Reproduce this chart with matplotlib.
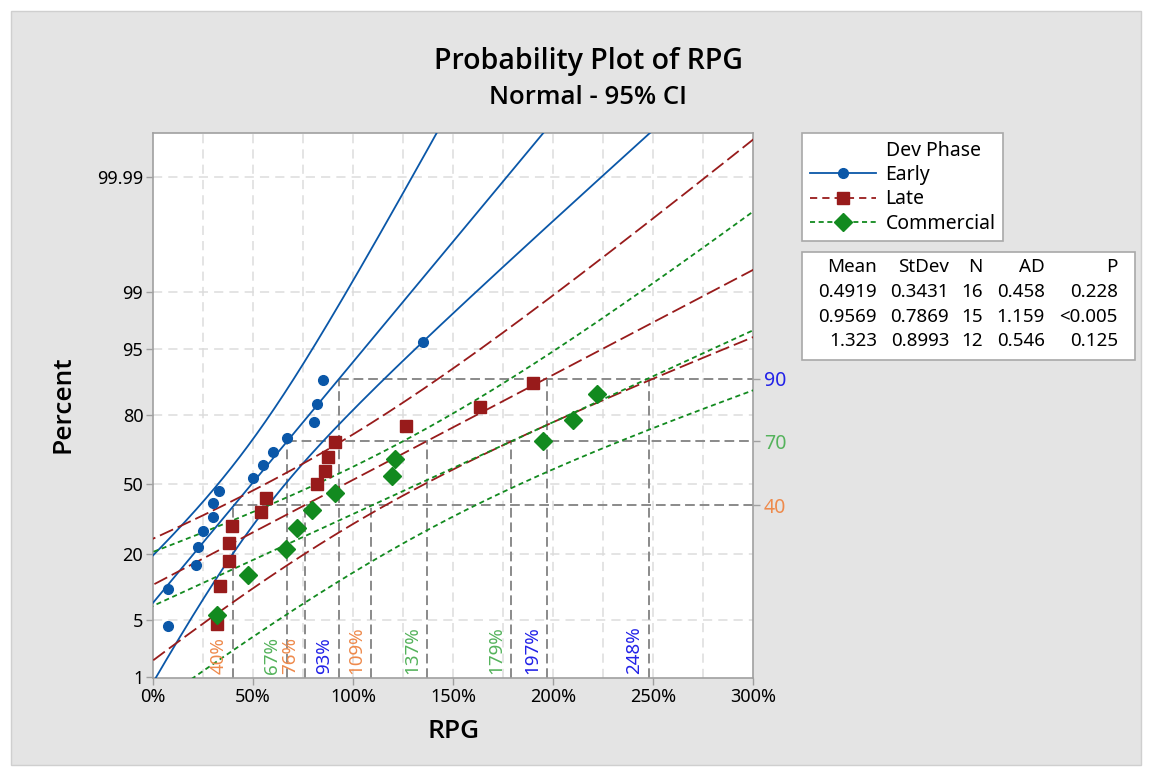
import numpy as np
import matplotlib
matplotlib.use("Agg")
import matplotlib.pyplot as plt
from matplotlib.lines import Line2D
from matplotlib.patches import Rectangle
from statistics import NormalDist

plt.rcParams['font.family'] = ['Noto Sans', 'DejaVu Sans']

# RPG values (fractions), one list per dev phase
early = [0.077, 0.077, 0.213, 0.227, 0.252, 0.298, 0.298, 0.33,
         0.502, 0.548, 0.598, 0.668, 0.803, 0.82, 0.85, 1.35]
late = [0.322, 0.335, 0.38, 0.38, 0.395, 0.538, 0.563, 0.818,
        0.862, 0.877, 0.91, 1.265, 1.635, 1.902, 3.17]
commercial = [0.322, 0.477, 0.665, 0.722, 0.793, 0.91, 1.195, 1.21,
              1.948, 2.098, 2.218, 3.32]

groups = ["Early", "Late", "Commercial"]
means = [0.4919, 0.9569, 1.323]
stdevs = [0.3431, 0.7869, 0.8993]
ns = [16, 15, 12]
ads = ["0.458", "1.159", "0.546"]
pvals = ["0.228", "<0.005", "0.125"]

# reference percents and the RPG values where each fit crosses them
ref_pcts = [90, 70, 40]
ref_rpg = [[93, 197, 248], [67, 137, 179], [40, 76, 109]]
ref_colors = ["#2222E8", "#55B35C", "#EE8A4C"]

y_ticks = [1, 5, 20, 50, 80, 95, 99, 99.99]

colors = ["#0A57A8", "#981B1B", "#128A1F"]
markers = ["o", "s", "D"]
msizes = [7, 8, 9]
dashes = [None, (8, 2.8), (2.8, 2)]

nd = NormalDist()


def z(p):
    return nd.inv_cdf(p / 100.0)


fig = plt.figure(figsize=(11.49, 7.73), dpi=100)
fig.patch.set_facecolor("white")
bg = Rectangle((11 / 1149, 8 / 773), 1 - 19 / 1149, 1 - 19 / 773,
               transform=fig.transFigure, facecolor="#E4E4E4",
               edgecolor="#CFCFCF", lw=1, zorder=-10)
fig.patches.append(bg)

ax = fig.add_axes([153 / 1149, 1 - 678 / 773, 600 / 1149, 545 / 773])
ax.set_zorder(5)
ax.set_facecolor("white")
ylo, yhi = -2.344, 4.254
ax.set_xlim(0, 3)
ax.set_ylim(ylo, yhi)

# grid
for gx in np.arange(0.25, 3.0, 0.25):
    ax.axvline(gx, color="#DCDCDC", lw=1.1, dashes=(6, 4), zorder=1)
for t in y_ticks[1:]:
    ax.axhline(z(t), color="#DCDCDC", lw=1.1, dashes=(6, 4), zorder=1)

zz = np.linspace(ylo - 0.5, yhi + 0.5, 300)
data = [early, late, commercial]
for i in range(3):
    m, s, n = means[i], stdevs[i], ns[i]
    fit = m + zz * s
    half = 1.959964 * s * np.sqrt((1 + zz ** 2 / 2) / n)
    kw = dict(color=colors[i], lw=1.3, zorder=3)
    if dashes[i] is not None:
        kw["dashes"] = dashes[i]
    for xs in (fit, fit - half, fit + half):
        ax.plot(xs, zz, **kw)
    vals = np.sort(data[i])
    ranks = np.arange(1, len(vals) + 1)
    pos = [z(100 * (r - 0.3) / (len(vals) + 0.4)) for r in ranks]
    ax.plot(vals, pos, linestyle="none", marker=markers[i], ms=msizes[i],
            color=colors[i], zorder=4)

# reference lines
for j, pct in enumerate(ref_pcts):
    zr = z(pct)
    xs = [v / 100 for v in ref_rpg[j]]
    ax.plot([min(xs), 3], [zr, zr], color="#8A8A8A", lw=1.4, dashes=(5, 2.5), zorder=2)
    for v in ref_rpg[j]:
        ax.plot([v / 100, v / 100], [ylo, zr], color="#8A8A8A", lw=1.4,
                dashes=(5, 2.5), zorder=2)
        ax.annotate(f"{v}%", (v / 100, ylo), xytext=(-4, 3),
                    textcoords="offset points", rotation=90, ha="right", va="bottom",
                    color=ref_colors[j], fontsize=13.5)

ax.set_yticks([z(t) for t in y_ticks])
ax.set_yticklabels(["99.99" if t == 99.99 else f"{t:g}" for t in y_ticks], fontsize=13)
ax.set_xticks(np.arange(0, 3.01, 0.5))
ax.set_xticklabels([f"{v:.0f}%" for v in np.arange(0, 301, 50)], fontsize=13)
ax.tick_params(colors="#A0A0A0", labelcolor="black", length=5, width=1, pad=2)
for sp in ax.spines.values():
    sp.set_color("#A0A0A0")
    sp.set_linewidth(1.2)

ax2 = ax.twinx()
ax2.set_zorder(6)
ax2.patch.set_visible(False)
ax2.set_ylim(ylo, yhi)
ax2.set_yticks([z(p) for p in ref_pcts])
ax2.set_yticklabels([str(p) for p in ref_pcts], fontsize=14)
ax2.tick_params(colors="#A0A0A0", length=5, width=1, pad=3)
for lab, c in zip(ax2.get_yticklabels(), ref_colors):
    lab.set_color(c)
for sp in ax2.spines.values():
    sp.set_visible(False)

bold = ['Open Sans', 'Lato', 'DejaVu Sans']
fig.text(588 / 1149, 1 - 62 / 773, "Probability Plot of RPG", ha="center", va="center",
         fontsize=20.5, fontweight="semibold", family=bold)
fig.text(588 / 1149, 1 - 97 / 773, "Normal - 95% CI", ha="center", va="center",
         fontsize=18.5, fontweight="semibold", family=bold)
fig.text(63 / 1149, 1 - 404 / 773, "Percent", rotation=90, ha="center", va="center",
         fontsize=19, fontweight="semibold", family=bold)
fig.text(454 / 1149, 1 - 732 / 773, "RPG", ha="center", va="center",
         fontsize=19, fontweight="semibold", family=bold)

# legend
handles = [Line2D([], [], linestyle="none")]
for i in range(3):
    h = Line2D([], [], color=colors[i], lw=1.3, marker=markers[i], ms=msizes[i])
    if dashes[i] is not None:
        h.set_dashes(dashes[i] if i == 2 else (4, 2.8))
    handles.append(h)
leg = fig.legend(handles, ["Dev Phase"] + groups, loc="upper left",
                 bbox_to_anchor=(802 / 1149, 1 - 133 / 773), fontsize=14,
                 frameon=True, fancybox=False, edgecolor="#A8A8A8", framealpha=1,
                 handlelength=3.4, handletextpad=0.5, borderpad=0.4,
                 borderaxespad=0, labelspacing=0.22)
leg.get_frame().set_linewidth(1.2)

# stats table
stats_box = Rectangle((802 / 1149, 1 - 360 / 773), 333 / 1149, 108 / 773,
                      transform=fig.transFigure, facecolor="white",
                      edgecolor="#A8A8A8", lw=1.2, zorder=1)
fig.patches.append(stats_box)
col_x = [877, 949, 983, 1045, 1118]
headers = ["Mean", "StDev", "N", "AD", "P"]
row_y = [267, 292, 316.5, 341]
for cx, h in zip(col_x, headers):
    fig.text(cx / 1149, 1 - row_y[0] / 773, h, ha="right", va="center", fontsize=13.5,
             zorder=2)
for r in range(3):
    cells = [f"{means[r]:.4g}", f"{stdevs[r]:.4f}", str(ns[r]), ads[r], pvals[r]]
    for cx, c in zip(col_x, cells):
        fig.text(cx / 1149, 1 - row_y[r + 1] / 773, c, ha="right", va="center",
                 fontsize=13.5, zorder=2)

fig.savefig("out.png", dpi=100)
